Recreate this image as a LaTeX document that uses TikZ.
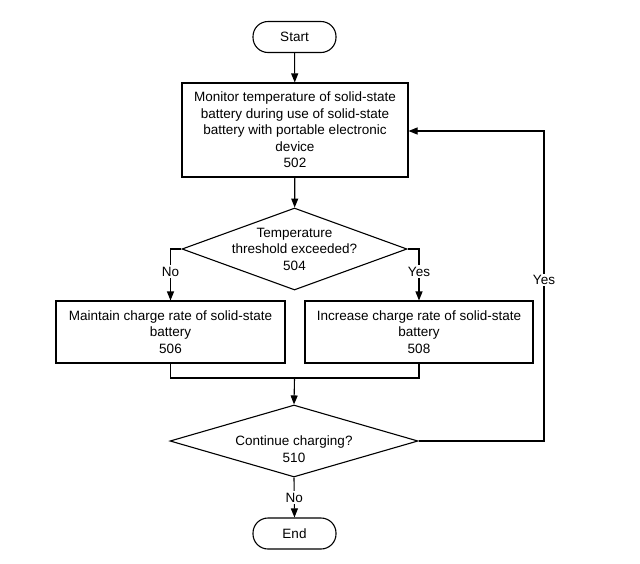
\documentclass[tikz,border=0pt]{standalone}
\usepackage{fontspec}
\setmainfont{Liberation Sans}
\usetikzlibrary{shapes.geometric,arrows.meta}
\begin{document}
\begin{tikzpicture}[x=1pt,y=-1pt, line width=1.1pt,
  every node/.style={font=\fontsize{13.5}{16.5}\selectfont, align=center},
  term/.style={draw, rounded corners=15pt, minimum width=83pt, minimum height=31pt, inner sep=0pt},
  proc/.style={draw, inner sep=0pt},
  dec/.style={draw, diamond, inner sep=0pt},
  arr/.style={-{Triangle[length=9pt,width=7pt]}},
  lbl/.style={fill=white, inner sep=1.5pt}]
\useasboundingbox (0,0) rectangle (640,563);

\node[term] (start) at (294.5,37) {Start};
\node[proc, minimum width=226pt, minimum height=94pt] (b502) at (295,130)
  {Monitor temperature of solid-state\\battery during use of solid-state\\battery with portable electronic\\device\\502};
\node[dec, minimum width=225pt, minimum height=82pt,
  label={[align=center]center:{Temperature\\threshold exceeded?\\504}}] (d504) at (294.5,249) {};
\node[proc, minimum width=229pt, minimum height=62pt] (b506) at (170.5,332)
  {Maintain charge rate of solid-state\\battery\\506};
\node[proc, minimum width=228pt, minimum height=62pt] (b508) at (419,332)
  {Increase charge rate of solid-state\\battery\\508};
\node[dec, minimum width=248pt, minimum height=72pt,
  label={[align=center,yshift=-8pt]center:{Continue charging?\\510}}] (d510) at (294,441) {};
\node[term] (end) at (294.5,533.5) {End};

\coordinate (m) at (294.5,378);
\coordinate (c1) at (544,131);

\draw[arr] (start) -- (b502);
\draw[arr] (b502) -- (d504);
\draw[arr] (d504.west) -| node[lbl,pos=0.72]{No} (b506.north);
\draw[arr] (d504.east) -| node[lbl,pos=0.72]{Yes} (b508.north);
\draw (b506.south) |- (m) -| (b508.south);
\draw[arr] (m) -- (d510.north);
\draw[arr] (d510.east) -| node[lbl,pos=0.76]{Yes} (c1) -- (b502.east |- c1);
\draw[arr] (d510.south) -- node[lbl]{No} (end.north);
\end{tikzpicture}
\end{document}
